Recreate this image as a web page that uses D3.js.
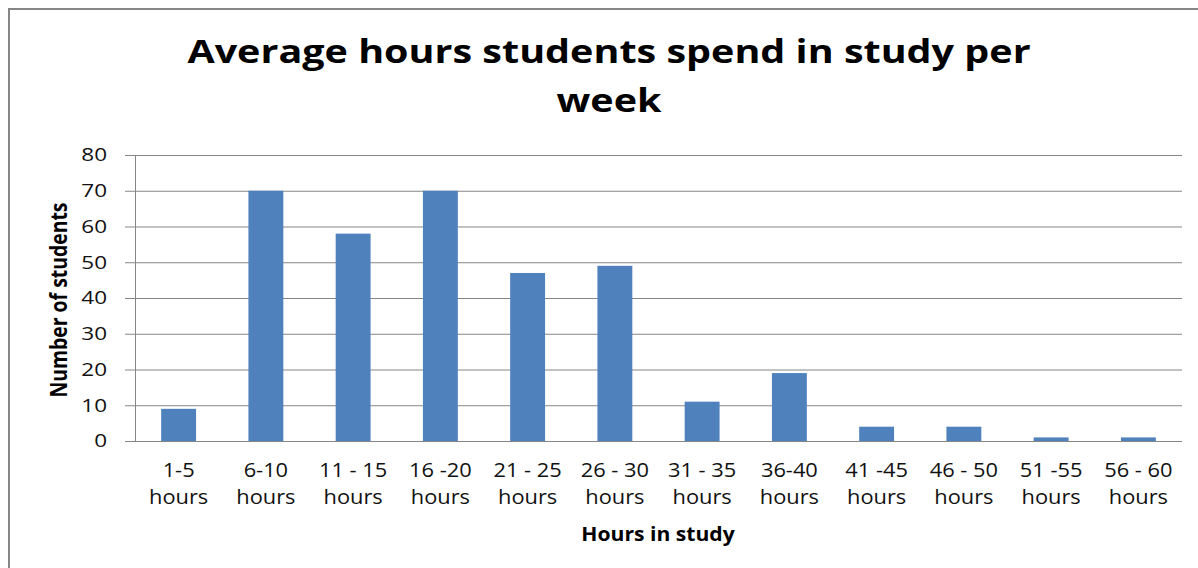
<!DOCTYPE html>
<html>
<head>
<meta charset="utf-8">
<script src="https://cdn.jsdelivr.net/npm/d3@7"></script>
<style>
  body { margin: 0; background: #fff; }
  text { font-family: "Open Sans", "DejaVu Sans", sans-serif; }
</style>
</head>
<body>
<svg width="1198" height="568"></svg>
<script>
const categories = ['1-5 hours', '6-10 hours', '11 - 15 hours', '16 -20 hours', '21 - 25 hours',
    '26 - 30 hours', '31 - 35 hours', '36-40 hours', '41 -45 hours', '46 - 50 hours',
    '51 -55 hours', '56 - 60 hours'];
const students = [9, 70, 58, 70, 47, 49, 11, 19, 4, 4, 1, 1];
const yTicks = [0, 10, 20, 30, 40, 50, 60, 70, 80];

const svg = d3.select('svg');

const plotLeft = 135;
const plotRight = 1182;
const plotTop = 155;
const plotBottom = 441;

// chart frame (only top and left edges show)
svg.append('path')
    .attr('d', 'M9,568V9H1198')
    .attr('fill', 'none')
    .attr('stroke', '#868686')
    .attr('stroke-width', 2);

const xScale = d3.scaleBand()
    .domain(categories)
    .range([plotLeft, plotRight])
    .paddingInner(0.6)
    .paddingOuter(0.3);

const yScale = d3.scaleLinear()
    .domain([0, 80])
    .range([plotBottom, plotTop]);

// gridlines + y axis
const yAxis = d3.axisLeft(yScale)
    .tickValues(yTicks)
    .tickSize(10);

const gy = svg.append('g')
    .attr('transform', `translate(${plotLeft}, 0)`)
    .call(yAxis);
gy.select('.domain').attr('stroke', '#868686');
gy.selectAll('.tick line')
    .attr('stroke', '#868686')
    .attr('x2', plotRight - plotLeft)
    .attr('x1', -10);
gy.selectAll('.tick text')
    .attr('x', null)
    .attr('transform', 'translate(-28,0) scale(1.25,1)')
    .attr('font-size', 18)
    .attr('fill', '#111');
gy.attr('font-family', null);

// bars
svg.append('g')
    .selectAll('rect')
    .data(students)
    .join('rect')
    .attr('x', (d, i) => xScale(categories[i]))
    .attr('y', d => yScale(d))
    .attr('width', xScale.bandwidth())
    .attr('height', d => yScale(0) - yScale(d))
    .attr('fill', '#4F81BD');

// baseline
svg.append('line')
    .attr('x1', plotLeft).attr('x2', plotRight)
    .attr('y1', plotBottom + 0.5).attr('y2', plotBottom + 0.5)
    .attr('stroke', '#868686');

// x labels (two lines each)
const xl = svg.append('g')
    .selectAll('text')
    .data(categories)
    .join('text')
    .attr('transform', d => `translate(${xScale(d) + xScale.bandwidth() / 2}, 477) scale(1.12,1)`)
    .attr('text-anchor', 'middle')
    .attr('font-size', 19.5)
    .attr('fill', '#111');
xl.append('tspan')
    .attr('x', 0)
    .text(d => d.replace(/\s*hours$/, ''));
xl.append('tspan')
    .attr('x', 0)
    .attr('dy', 27)
    .text('hours');

// titles
const title = svg.append('text')
    .attr('transform', 'translate(609, 63) scale(1.235,1)')
    .attr('text-anchor', 'middle')
    .attr('font-size', 32)
    .attr('font-weight', 'bold')
    .attr('fill', '#000');
title.append('tspan').attr('x', 0).text('Average hours students spend in study per');
title.append('tspan').attr('x', 0).attr('dy', 49).text('week');

svg.append('text')
    .attr('transform', 'translate(658, 541) scale(1.13,1)')
    .attr('text-anchor', 'middle')
    .attr('font-size', 18.7)
    .attr('font-weight', 'bold')
    .attr('fill', '#000')
    .text('Hours in study');

svg.append('text')
    .attr('transform', 'translate(67, 300) rotate(-90) scale(1,1.15)')
    .attr('text-anchor', 'middle')
    .attr('font-size', 19.4)
    .attr('font-weight', 'bold')
    .attr('fill', '#000')
    .text('Number of students');
</script>
</body>
</html>
